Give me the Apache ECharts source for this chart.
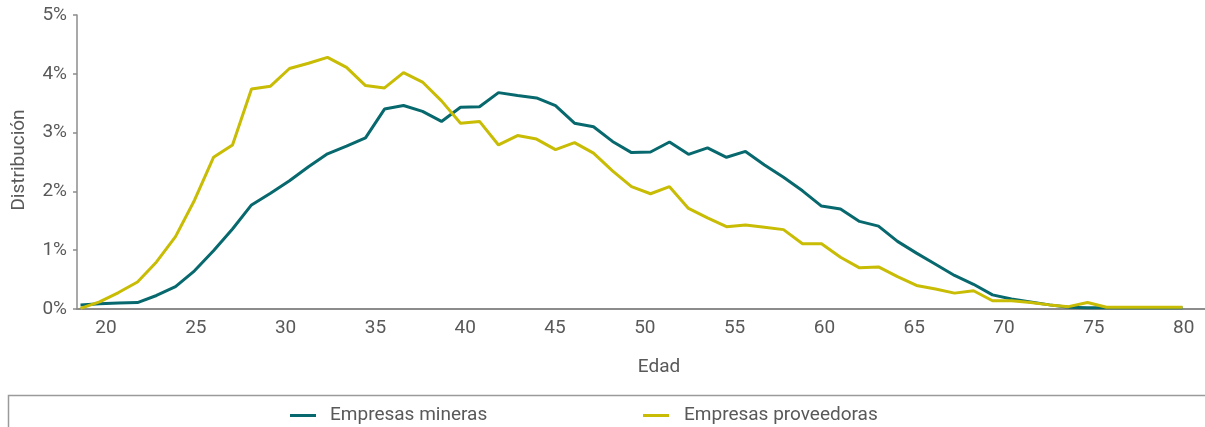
<!DOCTYPE html>
<html><head><meta charset="utf-8">
<script src="https://cdn.jsdelivr.net/npm/echarts@6/dist/echarts.min.js"></script>
<style>html,body{margin:0;padding:0;background:#fff}#c{width:1205px;height:427px}</style>
</head><body><div id="c"></div>
<script>
const FONT = "Roboto, 'Liberation Sans', sans-serif";
const FS = 19;
const TXT = '#595959';

// Etiquetas del eje de edad
const edadTicks = [20, 25, 30, 35, 40, 45, 50, 55, 60, 65, 70, 75, 80];
// Ticks del eje de distribución (%)
const yTicks = [0, 1, 2, 3, 4, 5];

// Distribución (%) - Empresas mineras
const mineras = [0.07, 0.09, 0.10, 0.11, 0.23, 0.38, 0.65, 0.99, 1.36, 1.77,
  1.97, 2.18, 2.42, 2.64, 2.77, 2.91, 3.40, 3.46, 3.36, 3.19,
  3.43, 3.44, 3.68, 3.63, 3.59, 3.46, 3.16, 3.10, 2.85, 2.66,
  2.67, 2.84, 2.63, 2.74, 2.58, 2.68, 2.45, 2.24, 2.01, 1.75,
  1.70, 1.49, 1.41, 1.15, 0.95, 0.76, 0.57, 0.42, 0.24, 0.17,
  0.12, 0.07, 0.03, 0.02, 0.02, 0.02, 0.02, 0.02, 0.02];

// Distribución (%) - Empresas proveedoras
const proveedoras = [0.01, 0.12, 0.28, 0.46, 0.80, 1.23, 1.85, 2.58, 2.79, 3.74,
  3.79, 4.09, 4.18, 4.28, 4.11, 3.80, 3.76, 4.02, 3.86, 3.54,
  3.16, 3.19, 2.79, 2.95, 2.89, 2.71, 2.83, 2.65, 2.35, 2.08,
  1.96, 2.08, 1.71, 1.55, 1.40, 1.43, 1.39, 1.35, 1.11, 1.11,
  0.88, 0.70, 0.715, 0.55, 0.40, 0.34, 0.27, 0.31, 0.14, 0.14,
  0.11, 0.07, 0.04, 0.11, 0.03, 0.03, 0.03, 0.03, 0.03];

// Posiciones de los puntos (categorías ordinales)
const puntos = mineras.map((_, i) => String(i + 1));

const chart = echarts.init(document.getElementById('c'), null, {renderer: 'canvas'});
chart.setOption({
  animation: false,
  backgroundColor: '#fff',
  textStyle: {fontFamily: FONT},
  grid: [
    {left: 77, right: 0, top: 15, bottom: 118, containLabel: false},
    {left: 80.5, right: 22.5, top: 15, bottom: 118, containLabel: false}
  ],
  xAxis: [
    {
      type: 'value', gridIndex: 0, min: 18.385, max: 81.19,
      name: 'Edad', nameLocation: 'middle', nameGap: 49,
      nameTextStyle: {color: TXT, fontSize: FS, fontFamily: FONT, padding: [0, 0, 0, 36]},
      axisLine: {show: true, lineStyle: {color: '#8c8c8c', width: 2}},
      axisTick: {show: false},
      splitLine: {show: false},
      axisLabel: {customValues: edadTicks, color: TXT, fontSize: FS, fontFamily: FONT, margin: 10}
    },
    {
      type: 'category', gridIndex: 1, data: puntos, boundaryGap: false, show: false
    }
  ],
  yAxis: [
    {
      type: 'value', gridIndex: 0, min: 0, max: 5, interval: 1,
      name: 'Distribución', nameLocation: 'middle', nameGap: 48, nameRotate: 90,
      nameTextStyle: {color: TXT, fontSize: FS, fontFamily: FONT, padding: [0, 0, 0, 4]},
      axisLine: {show: true, lineStyle: {color: '#8c8c8c', width: 1.5}},
      axisTick: {show: true, length: 4, lineStyle: {color: '#8c8c8c', width: 1.5}},
      splitLine: {show: false},
      axisLabel: {formatter: '{value}%', color: TXT, fontSize: FS, fontFamily: FONT, margin: 10}
    },
    {type: 'value', gridIndex: 1, min: 0, max: 5, show: false}
  ],
  legend: [
    {
      data: ['Empresas mineras'], left: 285, top: 401, icon: 'rect', itemWidth: 26, itemHeight: 3,
      textStyle: {color: TXT, fontSize: FS, fontFamily: FONT, padding: [0, 0, 0, 9]}
    },
    {
      data: ['Empresas proveedoras'], left: 638, top: 401, icon: 'rect', itemWidth: 26, itemHeight: 3,
      textStyle: {color: TXT, fontSize: FS, fontFamily: FONT, padding: [0, 0, 0, 10]}
    }
  ],
  graphic: [{
    type: 'rect', silent: true,
    shape: {x: 8.5, y: 395.5, width: 1300, height: 100},
    style: {fill: 'none', stroke: '#9a9a9a', lineWidth: 1.5}
  }],
  series: [
    {
      name: 'Empresas mineras', type: 'line', xAxisIndex: 1, yAxisIndex: 1,
      data: mineras, symbol: 'none', color: '#07696e',
      lineStyle: {width: 3, color: '#07696e'}
    },
    {
      name: 'Empresas proveedoras', type: 'line', xAxisIndex: 1, yAxisIndex: 1,
      data: proveedoras, symbol: 'none', color: '#c8bc04',
      lineStyle: {width: 3, color: '#c8bc04'}
    }
  ]
});
</script>
</body></html>
